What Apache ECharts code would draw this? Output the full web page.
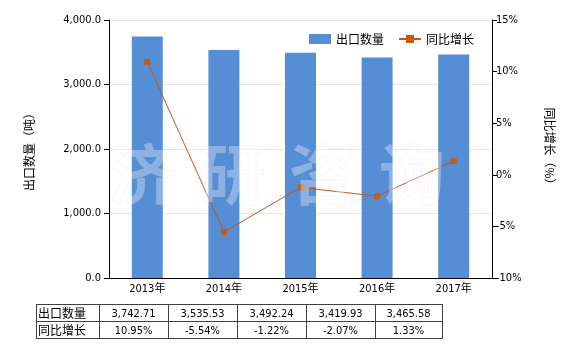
<!DOCTYPE html>
<html><head><meta charset="utf-8">
<script src="https://cdn.jsdelivr.net/npm/echarts@6/dist/echarts.min.js"></script>
<style>html,body{margin:0;padding:0;background:#fff}#c{width:580px;height:350px}</style>
</head><body><div id="c"></div>
<script>
var categories = ['2013年','2014年','2015年','2016年','2017年'];
var exportQty = [3742.71, 3535.53, 3492.24, 3419.93, 3465.58];
var growth = [10.95, -5.54, -1.22, -2.07, 1.33];
var seriesNames = ['出口数量','同比增长'];
var leftTicks = {min: 0, max: 4000, interval: 1000};
var rightTicks = {min: -10, max: 15, interval: 5};
var watermark = ['济','研','咨','询'];

var font = '"DejaVu Sans Condensed", "DejaVu Sans", "Noto Sans CJK SC", sans-serif';
var chart = echarts.init(document.getElementById('c'));

function fmtNum(v){ return v.toLocaleString('en-US',{minimumFractionDigits:2, maximumFractionDigits:2}); }
function fmtAxis(v){ return v.toLocaleString('en-US',{minimumFractionDigits:1, maximumFractionDigits:1}); }

var g = [];
// watermark
for (var w=0; w<watermark.length; w++){
  g.push({type:'text', x:142 + w*90, y:174, z:100, style:{text:watermark[w], font:'bold 66px "Noto Sans CJK SC", sans-serif', fill:'rgba(255,255,255,0.32)', stroke:'rgba(160,160,160,0.06)', lineWidth:2, align:'center', verticalAlign:'middle'}, silent:true});
}
// table
var colX = [36, 99, 168, 237, 306, 375, 442];
var rowY = [304, 321, 338];
var ls = {stroke:'#404040', lineWidth:1};
for (var r=0;r<rowY.length;r++) g.push({type:'line', shape:{x1:colX[0],y1:rowY[r]+0.5,x2:colX[colX.length-1]+1,y2:rowY[r]+0.5}, style:ls, silent:true});
for (var c=0;c<colX.length;c++) g.push({type:'line', shape:{x1:colX[c]+0.5,y1:rowY[0],x2:colX[c]+0.5,y2:rowY[2]+1}, style:ls, silent:true});
var rowVals = [exportQty.map(fmtNum), growth.map(function(v){return v.toFixed(2)+'%';})];
for (var r=0;r<2;r++){
  g.push({type:'text', x:colX[0]+2, y:(rowY[r]+rowY[r+1])/2+0.5, style:{text:seriesNames[r], font:'12px "Noto Sans CJK SC", sans-serif', fill:'#000', verticalAlign:'middle', align:'left'}, silent:true});
  for (var i=0;i<rowVals[r].length;i++){
    g.push({type:'text', x:(colX[i+1]+colX[i+2])/2, y:(rowY[r]+rowY[r+1])/2+1.5, style:{text:rowVals[r][i], font:'11px '+font, fill:'#000', verticalAlign:'middle', align:'center'}, silent:true});
  }
}

chart.setOption({
  animation:false,
  textStyle:{fontFamily:font},
  grid:{left:109, right:88, top:20, bottom:72},
  legend:{
    top:28, left:304, itemGap:14, itemWidth:22, itemHeight:10,
    textStyle:{fontSize:12, color:'#000', fontFamily:'"Noto Sans CJK SC", sans-serif'},
    data:[{name:seriesNames[0], icon:'rect'}, {name:seriesNames[1]}]
  },
  xAxis:{
    type:'category', data:categories,
    axisLine:{lineStyle:{color:'#000'}},
    axisTick:{alignWithLabel:true, lineStyle:{color:'#000'}},
    axisLabel:{color:'#000', fontSize:11, margin:6}
  },
  yAxis:[{
    type:'value', min:leftTicks.min, max:leftTicks.max, interval:leftTicks.interval,
    name:'出口数量（吨）', nameLocation:'middle', nameGap:74, nameRotate:90,
    nameTextStyle:{fontSize:12, color:'#000', fontFamily:'"Noto Sans CJK SC", sans-serif'},
    axisLine:{show:true, lineStyle:{color:'#000'}},
    axisTick:{show:true, lineStyle:{color:'#000'}},
    axisLabel:{color:'#000', fontSize:11, formatter:fmtAxis},
    splitLine:{lineStyle:{color:'#e8e8e0'}}
  },{
    type:'value', min:rightTicks.min, max:rightTicks.max, interval:rightTicks.interval,
    name:'同比增长（%）', nameLocation:'middle', nameGap:52, nameRotate:-90,
    nameTextStyle:{fontSize:12, color:'#000', fontFamily:'"Noto Sans CJK SC", sans-serif'},
    axisLine:{show:true, lineStyle:{color:'#000'}},
    axisTick:{show:true, lineStyle:{color:'#000'}},
    axisLabel:{color:'#000', fontSize:11, formatter:'{value}%', margin:4},
    splitLine:{show:false}
  }],
  series:[{
    name:seriesNames[0], type:'bar', data:exportQty, barWidth:31,
    itemStyle:{color:'#558ed5'}
  },{
    name:seriesNames[1], type:'line', yAxisIndex:1, data:growth,
    symbol:'rect', symbolSize:6,
    lineStyle:{color:'#c8541a', width:1},
    itemStyle:{color:'#c55a11'}
  }],
  graphic:g
});
</script></body></html>
